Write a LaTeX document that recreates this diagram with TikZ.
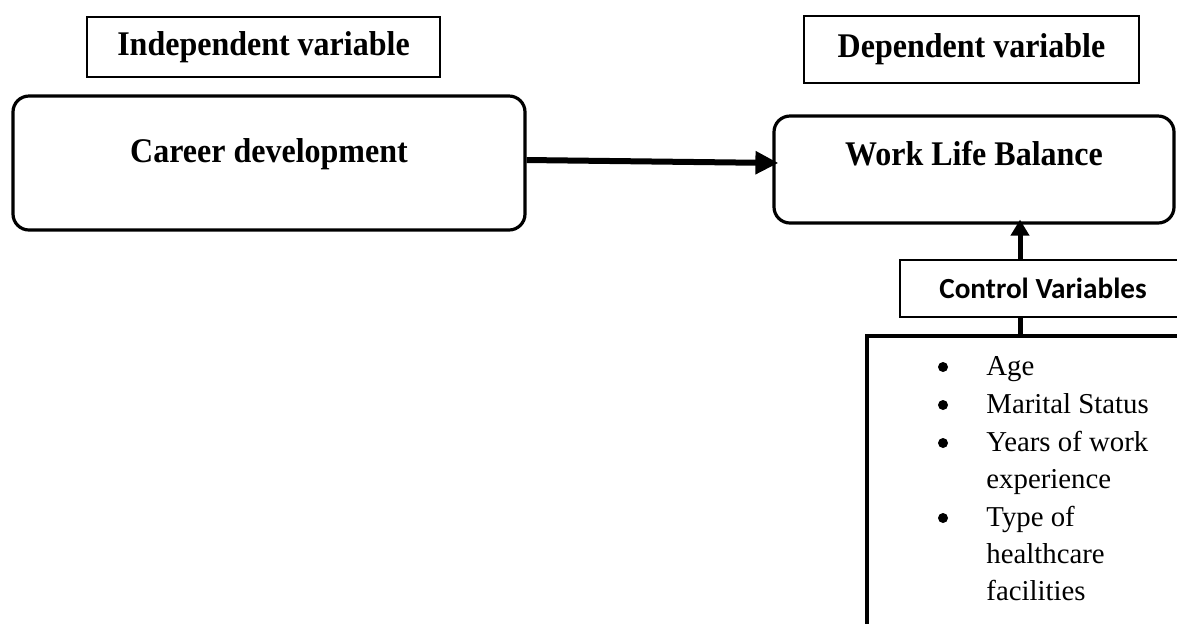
\documentclass[tikz,border=0pt]{standalone}
\usepackage{fontspec}
\usepackage{graphicx}
\setmainfont{Liberation Serif}
\newfontfamily\ctrlfont{Carlito}
\usetikzlibrary{arrows.meta,calc}
\newcommand{\tallbf}[1]{\scalebox{1}[1.08]{#1}}
\tikzset{
  headbox/.style={draw, line width=1.2pt, inner sep=0pt, font=\fontsize{16}{19}\selectfont\bfseries},
  roundbox/.style={draw, line width=1.6pt, rounded corners=8pt, inner sep=0pt},
  boxtitle/.style={inner sep=0pt, anchor=base, font=\fontsize{16}{19}\selectfont\bfseries},
  ctrlbox/.style={draw, line width=1.3pt, inner sep=0pt, font=\ctrlfont\fontsize{14.6}{17}\selectfont\bfseries},
  listbox/.style={draw, line width=1.7pt, inner sep=0pt},
  item/.style={inner sep=0pt, anchor=base west, font=\fontsize{14.4}{17}\selectfont},
  bul/.style={circle, fill=black, inner sep=0pt, minimum size=5pt},
  mainarrow/.style={line width=3pt, -{Triangle[length=11.5pt,width=11pt]}},
  uparrow/.style={line width=2.5pt, -{Triangle[length=8pt,width=9pt]}},
  joinline/.style={line width=2.5pt}
}
\begin{document}
\begin{tikzpicture}[x=0.5pt,y=-0.5pt]
\useasboundingbox (0,0) rectangle (1177,623);
\clip (0,0) rectangle (1177,623);
\fill[white] (0,0) rectangle (1177,623);

% header boxes
\node[headbox, minimum width=176.5pt, minimum height=30pt] (indep) at (263.5,47) {\tallbf{Independent variable}};
\node[headbox, minimum width=167.5pt, minimum height=33.5pt] (dep) at (971.5,49.5) {\tallbf{Dependent variable}};

% main rounded boxes
\node[roundbox, minimum width=256pt, minimum height=67pt] (career) at (269,163) {};
\node[boxtitle] (careertxt) at (269,162) {\tallbf{Career development}};
\node[roundbox, minimum width=200pt, minimum height=53.5pt] (wlb) at (974,169.5) {};
\node[boxtitle] (wlbtxt) at (974,165) {\tallbf{Work Life Balance}};

% control variables
\node[ctrlbox, minimum width=143pt, minimum height=28.5pt] (ctrl) at (1043,288.5) {Control Variables};
\node[listbox, minimum width=161.5pt, minimum height=152pt] (list) at (1028.5,488) {};

% list items
\node[bul] (b1) at (943,367) {};
\node[item] (i1) at (986,375) {Age};
\node[bul] (b2) at (943,405) {};
\node[item] (i2) at (986,413) {Marital Status};
\node[bul] (b3) at (943,443) {};
\node[item] (i3) at (986,451) {Years of work};
\node[item] (i3b) at (986,488) {experience};
\node[bul] (b4) at (943,518) {};
\node[item] (i4) at (986,526) {Type of};
\node[item] (i4b) at (986,563) {healthcare};
\node[item] (i4c) at (986,600) {facilities};

% connectors
\coordinate (vx) at (1020,0);
\draw[mainarrow] ($(career.east)+(0,-3)$) -- ($(wlb.west)+(6,-6.5)$);
\draw[uparrow] (vx |- ctrl.north) -- ($(vx |- wlb.south)+(0,-5)$);
\draw[joinline] (vx |- ctrl.south) -- (vx |- list.north);
\end{tikzpicture}
\end{document}
